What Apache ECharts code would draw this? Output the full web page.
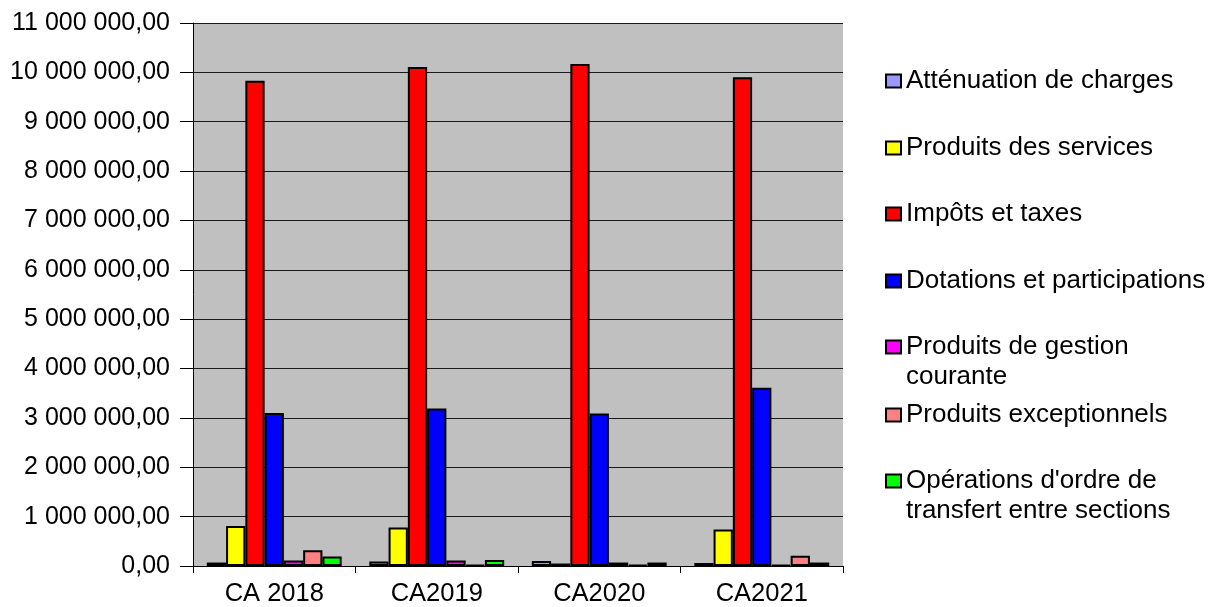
<!DOCTYPE html>
<html>
<head>
<meta charset="utf-8">
<script src="https://cdn.jsdelivr.net/npm/echarts@6/dist/echarts.min.js"></script>
<style>
html,body{margin:0;padding:0;background:#fff;}
#chart{width:1223px;height:607px;}
</style>
</head>
<body>
<div id="chart"></div>
<script>
const categories = ['CA 2018', 'CA2019', 'CA2020', 'CA2021'];
const seriesNames = [
  'Atténuation de charges',
  'Produits des services',
  'Impôts et taxes',
  'Dotations et participations',
  'Produits de gestion courante',
  'Produits exceptionnels',
  "Opérations d'ordre de transfert entre sections"
];
const legendLabels = [
  ['Atténuation de charges'],
  ['Produits des services'],
  ['Impôts et taxes'],
  ['Dotations et participations'],
  ['Produits de gestion', 'courante'],
  ['Produits exceptionnels'],
  ["Opérations d'ordre de", 'transfert entre sections']
];
const attenuation   = [70000, 90000, 100000, 60000];
const services      = [810000, 780000, 50000, 740000];
const impots        = [9830000, 10110000, 10170000, 9900000];
const dotations     = [3100000, 3190000, 3090000, 3610000];
const gestion       = [110000, 110000, 70000, 20000];
const exceptionnels = [320000, 20000, 20000, 210000];
const operations    = [190000, 120000, 70000, 70000];
const seriesValues = [attenuation, services, impots, dotations, gestion, exceptionnels, operations];
const colors = ['#9999FF', '#FFFF00', '#FF0000', '#0000FF', '#FF00FF', '#FF8080', '#00FF00'];
const yMin = 0, yMax = 11000000, yStep = 1000000;

const FONT = "'Liberation Sans', Arial, sans-serif";

function fmt(v) {
  const s = Math.round(v).toString().replace(/\B(?=(\d{3})+(?!\d))/g, ' ');
  return s + ',00';
}

const legendCenters = [81, 148, 214, 281, 347, 415, 481];
const legends = seriesNames.map((name, i) => {
  const lines = legendLabels[i];
  const text = lines.length > 1 ? '\n' + lines.join('\n') : lines[0];
  const nLines = lines.length > 1 ? 3 : 1;
  return {
    data: [name],
    left: 885,
    top: legendCenters[i] - nLines * 15,
    orient: 'vertical',
    itemWidth: 15,
    itemHeight: 13,
    padding: 0,
    selectedMode: false,
    icon: 'rect',
    formatter: () => text,
    textStyle: { fontFamily: FONT, fontSize: 26, color: '#000', lineHeight: 30 },
    itemStyle: { borderColor: '#000', borderWidth: 2 }
  };
});

const chart = echarts.init(document.getElementById('chart'), null, { renderer: 'canvas' });
chart.setOption({
  backgroundColor: '#fff',
  animation: false,
  color: colors,
  legend: legends,
  grid: {
    left: 193, right: 380, top: 23, bottom: 39,
    show: true, backgroundColor: '#C0C0C0', borderWidth: 0
  },
  xAxis: {
    type: 'category',
    data: categories,
    axisLine: { lineStyle: { color: '#000', width: 1 } },
    axisTick: { show: true, length: 7, lineStyle: { color: '#000' } },
    axisLabel: { fontFamily: FONT, fontSize: 25.5, color: '#000', margin: 15 }
  },
  yAxis: {
    type: 'value',
    min: yMin, max: yMax, interval: yStep,
    axisLine: { show: true, lineStyle: { color: '#000', width: 1 } },
    axisTick: { show: true, length: 13, lineStyle: { color: '#000' } },
    splitLine: { show: true, lineStyle: { color: '#1a1a1a', width: 1 } },
    axisLabel: { fontFamily: FONT, fontSize: 25, color: '#000', margin: 23, formatter: fmt }
  },
  series: seriesNames.map((name, i) => ({
    name: name,
    type: 'bar',
    data: seriesValues[i],
    barGap: 0,
    barCategoryGap: '17%',
    itemStyle: { color: colors[i], borderColor: '#000', borderWidth: 2 }
  }))
});
</script>
</body>
</html>
